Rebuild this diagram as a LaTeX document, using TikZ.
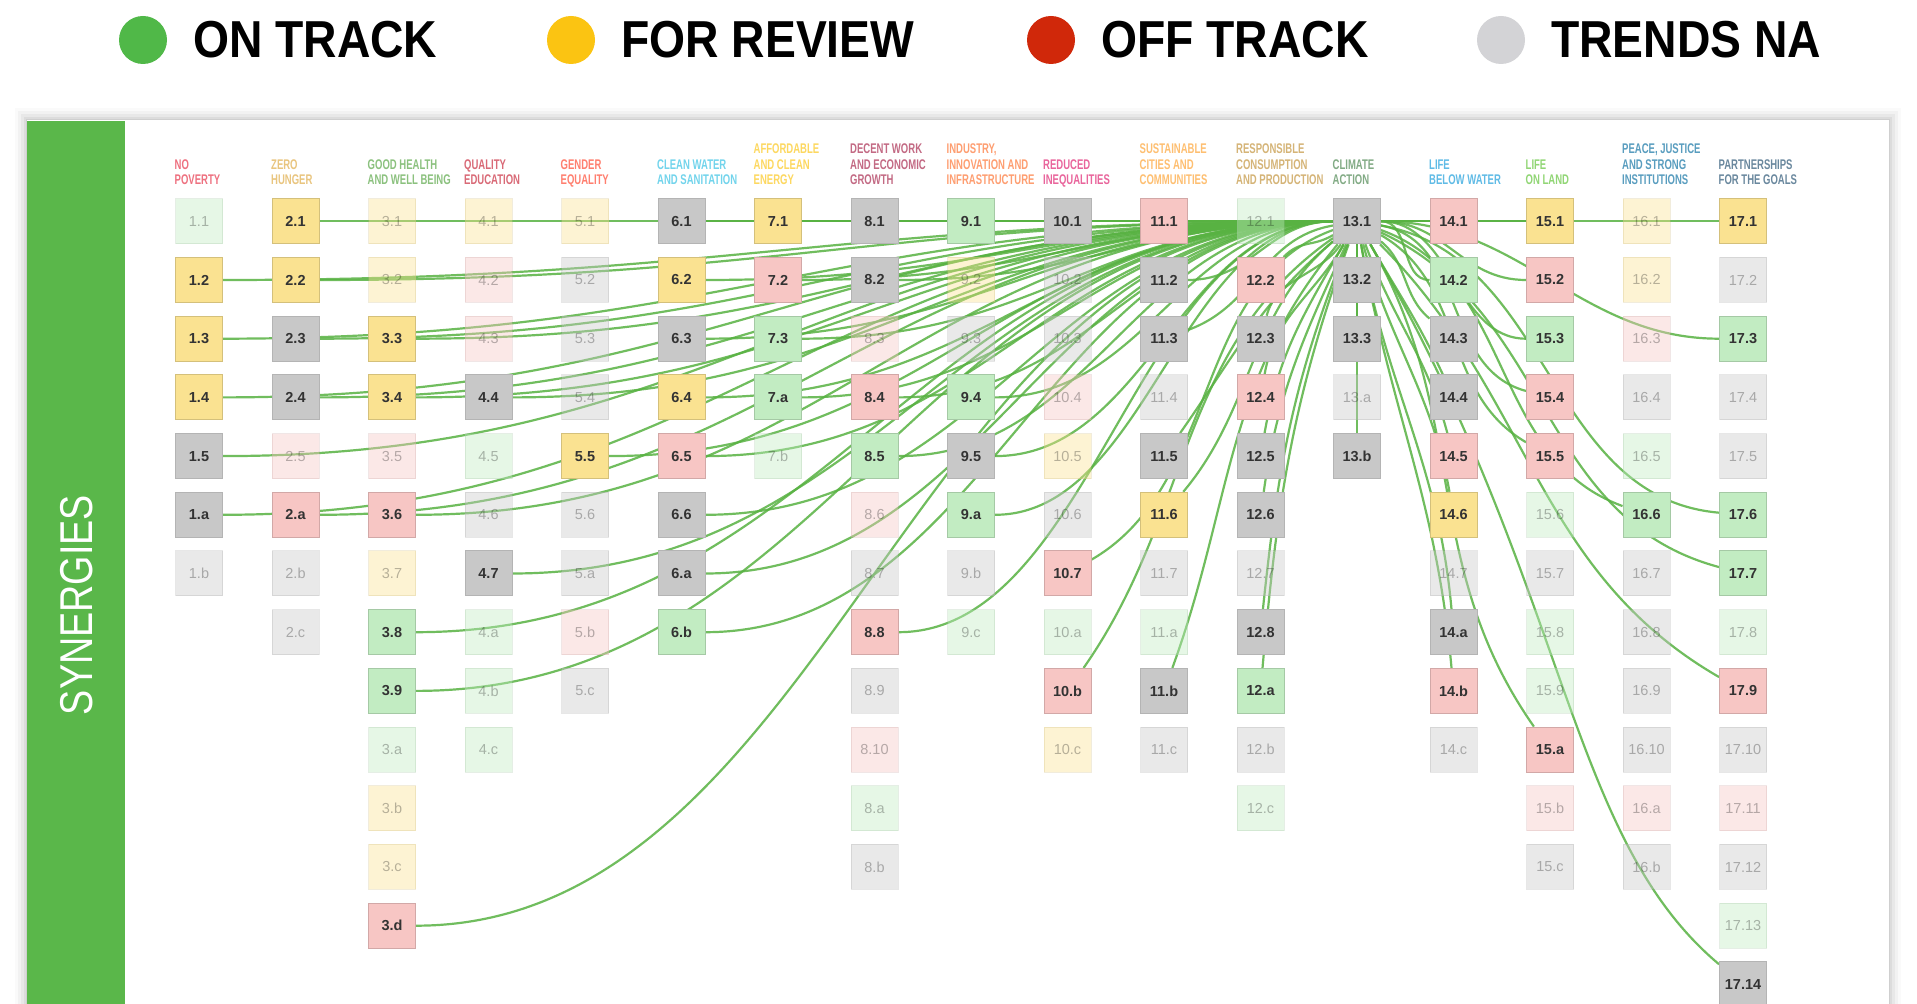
\documentclass[tikz,border=0pt]{standalone}
\usepackage{fontspec}
\setmainfont{Liberation Sans}
\usepackage{graphicx}
\pgfdeclarelayer{back}
\pgfdeclarelayer{links}
\pgfsetlayers{back,links,main}
% status colours
\definecolor{ontrack}{RGB}{80,184,72}
\definecolor{review}{RGB}{251,196,18}
\definecolor{offtrack}{RGB}{208,40,10}
\definecolor{trendna}{RGB}{211,211,214}
\definecolor{band}{RGB}{90,183,74}
\definecolor{linkgreen}{RGB}{88,178,66}
\definecolor{boxok}{RGB}{194,236,194}
\definecolor{boxrev}{RGB}{250,226,145}
\definecolor{boxoff}{RGB}{247,198,196}
\definecolor{boxna}{RGB}{200,200,200}
% goal colours
\definecolor{sdg1}{HTML}{E5243B}
\definecolor{sdg2}{HTML}{DDA63A}
\definecolor{sdg3}{HTML}{4C9F38}
\definecolor{sdg4}{HTML}{C5192D}
\definecolor{sdg5}{HTML}{FF3A21}
\definecolor{sdg6}{HTML}{26BDE2}
\definecolor{sdg7}{HTML}{FCC30B}
\definecolor{sdg8}{HTML}{A21942}
\definecolor{sdg9}{HTML}{FD6925}
\definecolor{sdg10}{HTML}{DD1367}
\definecolor{sdg11}{HTML}{FD9D24}
\definecolor{sdg12}{HTML}{BF8B2E}
\definecolor{sdg13}{HTML}{3F7E44}
\definecolor{sdg14}{HTML}{0A97D9}
\definecolor{sdg15}{HTML}{56C02B}
\definecolor{sdg16}{HTML}{00689D}
\definecolor{sdg17}{HTML}{19486A}

\begin{document}
\begin{tikzpicture}[x=1pt,y=1pt,
  box/.style={draw,line width=1pt,minimum width=47pt,minimum height=45pt,inner sep=0pt,font=\fontsize{14.5}{14.5}\selectfont},
  act/.style={box,text=black!80,font=\fontsize{14.5}{14.5}\selectfont\bfseries},
  dim/.style={box,fill opacity=0.4,draw opacity=0.25,text opacity=0.28,text=black},
  okA/.style={act,fill=boxok,draw=boxok!85!black}, okD/.style={dim,fill=boxok,draw=boxok!80!black},
  revA/.style={act,fill=boxrev,draw=boxrev!85!black}, revD/.style={dim,fill=boxrev,draw=boxrev!80!black},
  offA/.style={act,fill=boxoff,draw=boxoff!85!black}, offD/.style={dim,fill=boxoff,draw=boxoff!80!black},
  naA/.style={act,fill=boxna,draw=boxna!90!black}, naD/.style={dim,fill=boxna,draw=boxna!80!black},
  head/.style={anchor=base west,inner sep=0pt,font=\fontsize{14}{15.5}\selectfont\bfseries},
  legend/.style={anchor=west,inner sep=0pt,font=\fontsize{52}{52}\selectfont\bfseries},
  link/.style={draw=linkgreen,line width=2.2pt,opacity=0.85}]
\useasboundingbox (0,0) rectangle (1917,1004);

% card and side band
\begin{pgfonlayer}{back}
\fill[white] (0,0) rectangle (1917,1004);
\foreach \d/\op in {12/0.02,9/0.03,6/0.04,3/0.05,1/0.06}
  \fill[black,opacity=\op] ({27-\d},0) rectangle ({1889+\d},{884+\d});
\fill[white] (27,0) rectangle (1889,884);
\fill[band] (27,0) rectangle (125,883);
\end{pgfonlayer}

% legend
\foreach \x/\c/\txt [count=\i] in {143/ontrack/ON TRACK,571/review/FOR REVIEW,1051/offtrack/OFF TRACK,1501/trendna/TRENDS NA}{
  \fill[\c] (\x,964) circle (24);
  \node[legend] (lg\i) at (\x+50,964) {\scalebox{0.89}[1]{\txt}};
}

\node[rotate=90,text=white,font=\fontsize{46}{46}\selectfont] (syn) at (77,399) {\scalebox{0.82}[1]{SYNERGIES}};

% goal headers
\foreach \col/\txt in {1/{NO\\POVERTY},2/{ZERO\\HUNGER},3/{GOOD HEALTH\\AND WELL BEING},4/{QUALITY\\EDUCATION},
  5/{GENDER\\EQUALITY},6/{CLEAN WATER\\AND SANITATION},7/{AFFORDABLE\\AND CLEAN\\ENERGY},
  8/{DECENT WORK\\AND ECONOMIC\\GROWTH},9/{INDUSTRY,\\INNOVATION AND\\INFRASTRUCTURE},10/{REDUCED\\INEQUALITIES},
  11/{SUSTAINABLE\\CITIES AND\\COMMUNITIES},12/{RESPONSIBLE\\CONSUMPTION\\AND PRODUCTION},13/{CLIMATE\\ACTION},
  14/{LIFE\\BELOW WATER},15/{LIFE\\ON LAND},16/{PEACE, JUSTICE\\AND STRONG\\INSTITUTIONS},17/{PARTNERSHIPS\\FOR THE GOALS}}
  \node[head,text=sdg\col!65] (h\col) at ({174.5+(\col-1)*96.5},819)
    {\scalebox{0.68}[1]{\begin{tabular}[b]{@{}l@{}}\txt\end{tabular}}};

% target boxes
\foreach \col/\items in {
  1/{1/okD,2/revA,3/revA,4/revA,5/naA,a/naA,b/naD},
  2/{1/revA,2/revA,3/naA,4/naA,5/offD,a/offA,b/naD,c/naD},
  3/{1/revD,2/revD,3/revA,4/revA,5/offD,6/offA,7/revD,8/okA,9/okA,a/okD,b/revD,c/revD,d/offA},
  4/{1/revD,2/offD,3/offD,4/naA,5/okD,6/naD,7/naA,a/okD,b/okD,c/okD},
  5/{1/revD,2/naD,3/naD,4/naD,5/revA,6/naD,a/naD,b/offD,c/naD},
  6/{1/naA,2/revA,3/naA,4/revA,5/offA,6/naA,a/naA,b/okA},
  7/{1/revA,2/offA,3/okA,a/okA,b/okD},
  8/{1/naA,2/naA,3/offD,4/offA,5/okA,6/offD,7/naD,8/offA,9/naD,10/offD,a/okD,b/naD},
  9/{1/okA,2/revD,3/naD,4/okA,5/naA,a/okA,b/naD,c/okD},
  10/{1/naA,2/naD,3/naD,4/offD,5/revD,6/naD,7/offA,a/okD,b/offA,c/revD},
  11/{1/offA,2/naA,3/naA,4/naD,5/naA,6/revA,7/naD,a/okD,b/naA,c/naD},
  12/{1/okD,2/offA,3/naA,4/offA,5/naA,6/naA,7/naD,8/naA,a/okA,b/naD,c/okD},
  13/{1/naA,2/naA,3/naA,a/naD,b/naA},
  14/{1/offA,2/okA,3/naA,4/naA,5/offA,6/revA,7/naD,a/naA,b/offA,c/naD},
  15/{1/revA,2/offA,3/okA,4/offA,5/offA,6/okD,7/naD,8/okD,9/okD,a/offA,b/offD,c/naD},
  16/{1/revD,2/revD,3/offD,4/naD,5/okD,6/okA,7/naD,8/naD,9/naD,10/naD,a/offD,b/naD},
  17/{1/revA,2/naD,3/okA,4/naD,5/naD,6/okA,7/okA,8/okD,9/offA,10/naD,11/offD,12/naD,13/okD,14/naA}}
  \foreach \lab/\st [count=\n] in \items
    \node[\st] (t\col-\lab) at ({199+(\col-1)*96.5},{782.7-(\n-1)*58.7}) {\col.\lab};

% synergy links from 13.1: target / angle at 13.1 / angle at target / handle length
\begin{pgfonlayer}{links}
\foreach \tgt/\oa/\ia/\dd in {
  1-2/180/0/500,1-3/180/0/500,1-4/180/0/500,1-5/180/0/500,1-a/180/0/500,
  2-1/180/0/456,2-2/180/0/456,2-3/180/0/456,2-4/180/0/456,2-a/180/0/456,
  3-3/180/0/413,3-4/180/0/413,3-6/180/0/413,3-8/180/0/413,3-9/180/0/413,3-d/180/0/413,
  4-4/180/0/369,4-7/180/0/369,5-5/180/0/326,
  6-1/180/0/282,6-2/180/0/282,6-3/180/0/282,6-4/180/0/282,6-5/180/0/282,6-6/180/0/282,6-a/180/0/282,6-b/180/0/282,
  7-1/180/0/239,7-2/180/0/239,7-3/180/0/239,7-a/180/0/239,
  8-1/180/0/196,8-2/180/0/196,8-4/180/0/196,8-5/180/0/196,8-8/180/0/196,
  9-1/180/0/152,9-4/180/0/152,9-5/180/0/152,9-a/180/0/152,
  10-1/180/0/109,10-7/200/30/150,10-b/215/55/190,
  11-1/180/0/65,11-2/180/0/65,11-3/190/20/73,11-5/220/55/95,11-6/220/50/110,11-b/230/70/175,
  12-2/210/45/25,12-3/235/75/40,12-4/240/80/60,12-5/240/80/80,12-6/245/82/100,12-8/248/84/145,12-a/250/85/165,
  13-2/270/90/20,13-3/270/90/20,13-b/270/90/20,
  14-1/0/180/20,14-2/0/180/30,14-3/320/140/36,14-4/300/115/58,14-5/290/105/80,14-6/285/100/100,14-a/280/95/145,14-b/280/95/168,
  15-1/0/180/20,15-2/0/180/65,15-3/0/180/70,15-4/350/165/87,15-5/330/150/98,15-a/300/125/200,
  16-6/340/160/143,
  17-1/0/180/20,17-3/0/180/140,17-6/350/175/174,17-7/335/165/189,17-9/315/150/214}
  \draw[link] (t13-1.\oa) .. controls +(\oa:\dd) and +(\ia:\dd) .. (t\tgt.\ia);
\draw[link] (t13-1.300) .. controls +(300:400) and +(140:200) .. (t17-14.140);
\end{pgfonlayer}
\end{tikzpicture}
\end{document}
